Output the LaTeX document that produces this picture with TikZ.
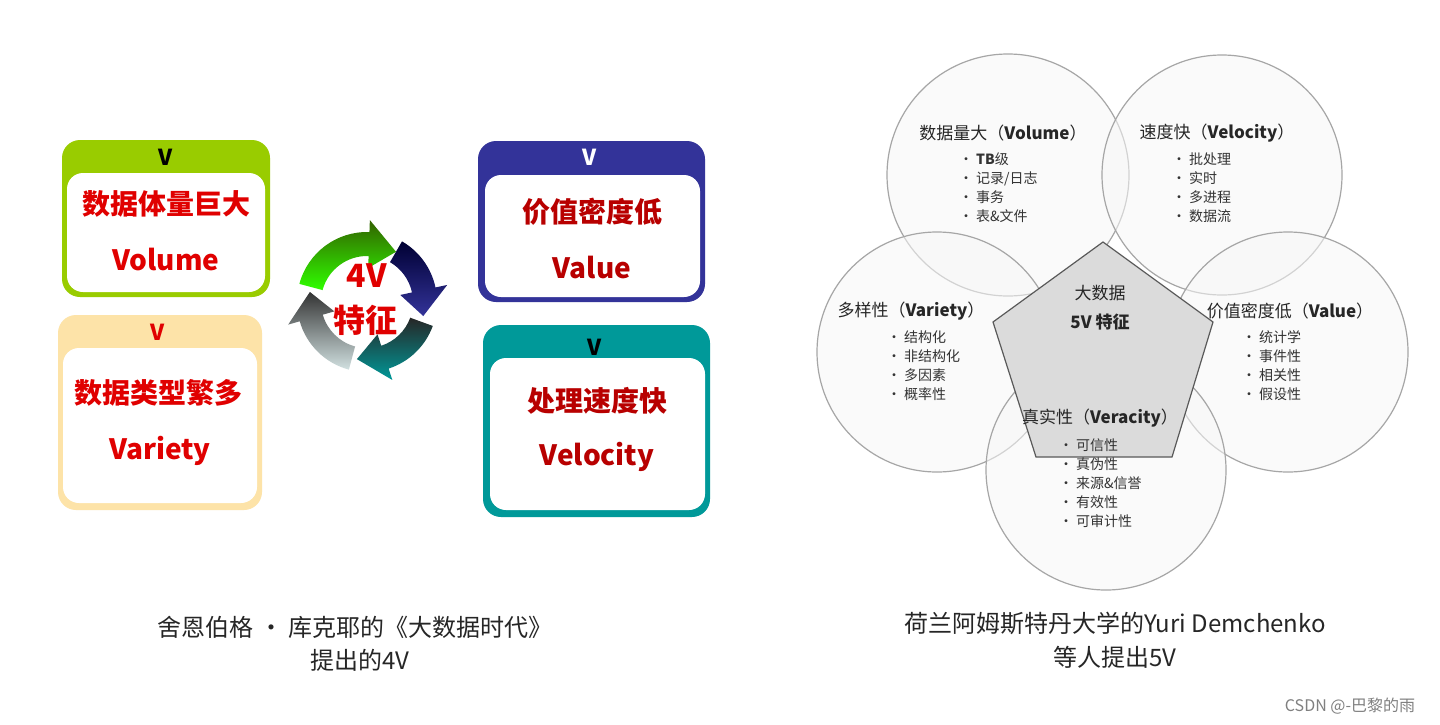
\documentclass[tikz,border=0pt]{standalone}
\usepackage{fontspec}
\setmainfont{Noto Sans CJK SC}
\begin{document}
\begin{tikzpicture}[x=0.5pt,y=-0.5pt,
  outer/.style={rounded corners=9pt},
  inner/.style={fill=white,rounded corners=8pt},
  big/.style={font=\fontsize{14}{16}\selectfont\bfseries},
  vlab/.style={font=\fontsize{11}{12}\selectfont\bfseries},
  circ/.style={draw=gray!70,fill=gray!6,fill opacity=0.55,line width=0.6pt},
  ttl/.style={font=\fontsize{8.5}{10}\selectfont,text=black!85},
  itm/.style={font=\fontsize{7}{8.5}\selectfont,text=black!80,anchor=west,align=left},
  captxt/.style={font=\fontsize{12}{14}\selectfont,text=black!85}]
\useasboundingbox (0,0) rectangle (1440,724);
\fill[white] (0,0) rectangle (1440,724);
% ---- left boxes
\definecolor{vgreen}{HTML}{99CC00}\definecolor{vpeach}{HTML}{FDE3A8}
\definecolor{vnavy}{HTML}{333399}\definecolor{vteal}{HTML}{009999}
\definecolor{lred}{HTML}{E00000}\definecolor{dred}{HTML}{B80000}
\fill[vgreen,outer] (62,140) rectangle (270,297);
\fill[inner] (67,173) rectangle (265,292);
\node[vlab] (v1) at (166,157) {V};
\node[big,text=lred] (c1) at (166,204) {数据体量巨大};
\node[big,text=lred] (e1) at (166,260) {Volume};
\fill[vpeach,outer] (58,315) rectangle (262,510);
\fill[inner] (63,348) rectangle (257,503);
\node[vlab,text=lred] (v2) at (158,332) {V};
\node[big,text=lred] (c2) at (158,393) {数据类型繁多};
\node[big,text=lred] (e2) at (160,451) {Variety};
\fill[vnavy,outer] (478,141) rectangle (705,302);
\fill[inner] (485,175) rectangle (700,297);
\node[vlab,text=white] (v3) at (590,157) {V};
\node[big,text=dred] (c3) at (592,212) {价值密度低};
\node[big,text=dred] (e3) at (592,268) {Value};
\fill[vteal,outer] (483,325) rectangle (710,517);
\fill[inner] (490,358) rectangle (705,510);
\node[vlab] (v4) at (595,347) {V};
\node[big,text=dred] (c4) at (597,401) {处理速度快};
\node[big,text=dred] (e4) at (597,457) {Velocity};
% ---- cycle
\begin{scope}[shift={(367,302)},yscale=-1]
\def\ri{46}\def\ro{70}
\newcommand\cyc[5]{%
  \path[left color=#4,right color=#5,shading angle=0]
    (#1:\ri) arc[start angle=#1,end angle=#2,radius=\ri] -- (#2:\ri-12)
    -- (#3:{(\ri+\ro)/2}) -- (#2:\ro+12) -- (#2:\ro)
    arc[start angle=#2,end angle=#1,radius=\ro] -- cycle;}
\cyc{165}{88}{60}{black!70!green!60!olive}{green!75!lime}
\cyc{60}{12}{-14}{black!80!blue}{vnavy}
\cyc{-20}{-72}{-100}{black!85}{vteal}
\cyc{255}{196}{170}{black!80}{cyan!20!gray!30}
\end{scope}
\node[font=\fontsize{16}{18}\selectfont\bfseries,text=lred] (f1) at (367,276) {4V};
\node[font=\fontsize{16}{18}\selectfont\bfseries,text=lred] (f2) at (365,320) {特征};
% ---- right: circles
\draw[circ] (1008,175) circle (121);
\draw[circ] (1222,175) circle (120);
\draw[circ] (937,352) circle (120);
\draw[circ] (1288,352) circle (120);
\draw[circ] (1106,470) circle (120);
\draw[gray!70!black,fill=gray!28,line width=0.6pt] (1103,242) -- (1213,322) -- (1172,457) -- (1036,457) -- (993,322) -- cycle;
\node[ttl] (p1) at (1100,293) {大数据};
\node[ttl] (p2) at (1100,322) {\bfseries 5V 特征};
\node[ttl] (t1) at (1003,133) {数据量大（\textbf{Volume}）};
\node[itm] (l1) at (952,188) {\textbullet\ \textbf{TB}级\\[1pt]\textbullet\ 记录/日志\\[1pt]\textbullet\ 事务\\[1pt]\textbullet\ 表\&文件};
\node[ttl] (t2) at (1217,133) {速度快（\textbf{Velocity}）};
\node[itm] (l2) at (1165,188) {\textbullet\ 批处理\\[1pt]\textbullet\ 实时\\[1pt]\textbullet\ 多进程\\[1pt]\textbullet\ 数据流};
\node[ttl] (t3) at (911,311) {多样性（\textbf{Variety}）};
\node[itm] (l3) at (880,366) {\textbullet\ 结构化\\[1pt]\textbullet\ 非结构化\\[1pt]\textbullet\ 多因素\\[1pt]\textbullet\ 概率性};
\node[ttl] (t4) at (1290,311) {价值密度低（\textbf{Value}）};
\node[itm] (l4) at (1235,366) {\textbullet\ 统计学\\[1pt]\textbullet\ 事件性\\[1pt]\textbullet\ 相关性\\[1pt]\textbullet\ 假设性};
\node[ttl] (t5) at (1100,418) {真实性（\textbf{Veracity}）};
\node[itm] (l5) at (1052,483) {\textbullet\ 可信性\\[1pt]\textbullet\ 真伪性\\[1pt]\textbullet\ 来源\&信誉\\[1pt]\textbullet\ 有效性\\[1pt]\textbullet\ 可审计性};
% ---- captions
\node[captxt] (k1) at (355,627) {舍恩伯格 · 库克耶的《大数据时代》};
\node[captxt] (k2) at (360,660) {提出的4V};
\node[captxt] (k3) at (1115,623) {荷兰阿姆斯特丹大学的Yuri Demchenko};
\node[captxt] (k4) at (1115,657) {等人提出5V};
\node[font=\fontsize{8}{9}\selectfont,text=gray] (wm) at (1350,706) {CSDN @-巴黎的雨};
\end{tikzpicture}
\end{document}
